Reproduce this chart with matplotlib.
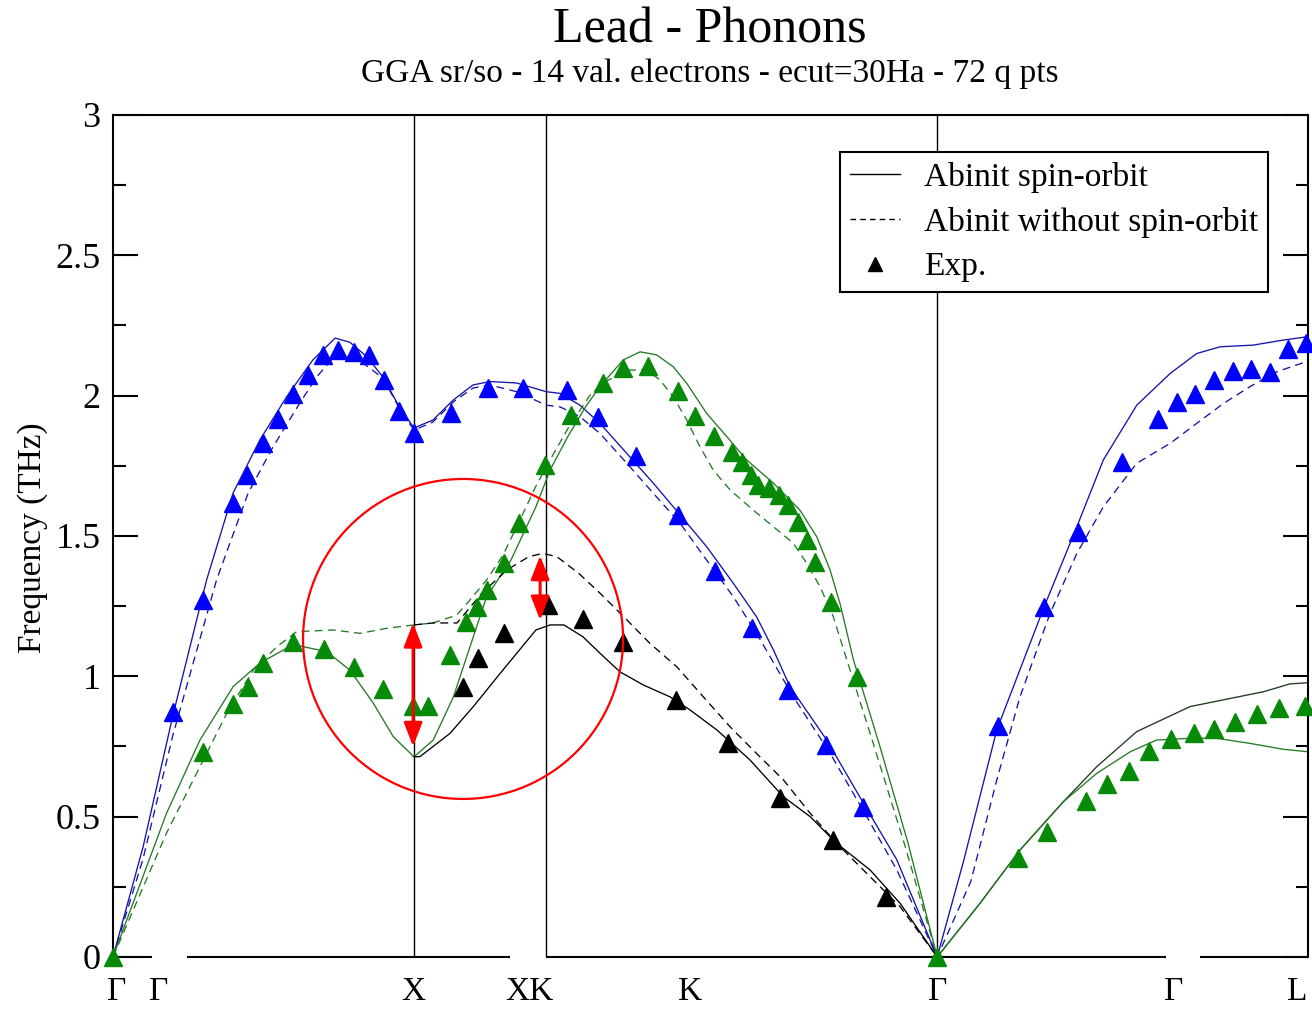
import matplotlib
matplotlib.use("Agg")
import matplotlib.pyplot as plt
from matplotlib.lines import Line2D
from matplotlib.patches import Ellipse, FancyArrowPatch
from matplotlib.ticker import MultipleLocator

plt.rcParams["font.family"] = ["Liberation Serif", "DejaVu Serif"]

# path coordinate: Gamma = 0, X = 1, X|K = 1.439, Gamma = 2.738, L = 3.97
X_TICKS = [0.013, 0.153, 0.997, 1.382, 1.917, 2.738, 3.525, 3.934]
X_LABELS = ["Γ", "Γ", "X", "XK", "K", "Γ", "Γ", "L"]
SPECIAL_LINES = [1.0, 1.439, 2.738]

# blue branch, with spin-orbit
blue_so_x = [0, 0.100, 0.199, 0.311, 0.399, 0.488, 0.577, 0.664, 0.738, 0.787, 0.843, 0.897,
             0.953, 1.0, 1.063, 1.130, 1.196, 1.252, 1.341, 1.439, 1.485, 1.551, 1.618, 1.707,
             1.795, 1.884, 1.972, 2.061, 2.138, 2.194, 2.249, 2.371, 2.493, 2.604, 2.738,
             2.824, 2.936, 3.093, 3.202, 3.290, 3.401, 3.512, 3.600, 3.678, 3.788, 3.888, 3.970]
blue_so_y = [0, 0.392, 0.860, 1.343, 1.653, 1.842, 1.996, 2.127, 2.205, 2.190, 2.139, 2.066,
             1.956, 1.885, 1.913, 1.984, 2.038, 2.050, 2.045, 2.014, 2.008, 1.966, 1.901, 1.794,
             1.688, 1.575, 1.462, 1.331, 1.212, 1.094, 0.963, 0.773, 0.548, 0.346, 0,
             0.335, 0.809, 1.247, 1.533, 1.771, 1.966, 2.079, 2.150, 2.174, 2.180, 2.198, 2.210]

# blue branch, without spin-orbit
blue_nso_x = [0, 0.100, 0.199, 0.344, 0.449, 0.532, 0.621, 0.677, 0.731, 0.797, 0.831, 0.897,
              0.953, 1.0, 1.063, 1.130, 1.196, 1.252, 1.341, 1.439, 1.485, 1.551, 1.618, 1.707,
              1.795, 1.884, 1.972, 2.061, 2.138, 2.260, 2.382, 2.504, 2.604, 2.738,
              2.850, 2.936, 3.013, 3.113, 3.202, 3.290, 3.401, 3.512, 3.600, 3.689, 3.777, 3.866, 3.970]
blue_nso_y = [0, 0.350, 0.790, 1.343, 1.653, 1.818, 1.974, 2.067, 2.134, 2.134, 2.116, 2.062,
              1.952, 1.877, 1.906, 1.977, 2.027, 2.038, 2.014, 1.966, 1.960, 1.925, 1.865, 1.759,
              1.652, 1.545, 1.414, 1.283, 1.153, 0.927, 0.726, 0.500, 0.310, 0,
              0.270, 0.631, 0.927, 1.224, 1.438, 1.604, 1.759, 1.830, 1.901, 1.972, 2.032, 2.085, 2.123]

# green branch, with spin-orbit (Gamma - X - K - Gamma)
green_so_x = [0, 0.178, 0.289, 0.399, 0.488, 0.577, 0.621, 0.710, 0.787, 0.865, 0.931, 1.0,
              1.064, 1.131, 1.186, 1.241, 1.322, 1.405, 1.452, 1.511, 1.570, 1.617, 1.695,
              1.751, 1.806, 1.861, 1.906, 1.972, 2.039, 2.105, 2.194, 2.282, 2.338, 2.382,
              2.415, 2.460, 2.545, 2.640, 2.738]
green_so_y = [0, 0.512, 0.773, 0.963, 1.047, 1.100, 1.108, 1.088, 1.022, 0.904, 0.785, 0.713,
              0.773, 0.927, 1.105, 1.283, 1.414, 1.604, 1.735, 1.854, 1.960, 2.032, 2.127,
              2.156, 2.145, 2.103, 2.044, 1.937, 1.854, 1.771, 1.688, 1.592, 1.497, 1.379,
              1.260, 1.058, 0.760, 0.410, 0]

# green branch, without spin-orbit
green_nso_x = [0, 0.178, 0.289, 0.378, 0.466, 0.544, 0.610, 0.732, 0.821, 0.909, 1.0, 1.063,
               1.142, 1.186, 1.241, 1.296, 1.352, 1.402, 1.452, 1.518, 1.585, 1.628, 1.707,
               1.773, 1.817, 1.861, 1.906, 1.950, 1.994, 2.050, 2.127, 2.194, 2.260, 2.305,
               2.349, 2.393, 2.438, 2.520, 2.630, 2.738]
green_nso_y = [0, 0.442, 0.678, 0.868, 1.022, 1.105, 1.159, 1.165, 1.153, 1.171, 1.183, 1.190,
               1.218, 1.272, 1.343, 1.432, 1.557, 1.671, 1.771, 1.895, 2.002, 2.045, 2.091,
               2.091, 2.056, 1.996, 1.913, 1.818, 1.735, 1.664, 1.592, 1.533, 1.474, 1.402,
               1.319, 1.212, 1.058, 0.780, 0.400, 0]

# Gamma - L transverse branches (with spin-orbit)
gl_upper_x = [2.738, 2.880, 3.013, 3.157, 3.268, 3.401, 3.578, 3.711, 3.822, 3.910, 3.970]
gl_upper_y = [0, 0.191, 0.381, 0.553, 0.678, 0.803, 0.892, 0.921, 0.945, 0.973, 0.977]
gl_lower_x = [2.738, 2.880, 3.013, 3.157, 3.268, 3.379, 3.467, 3.578, 3.667, 3.777, 3.888, 3.970]
gl_lower_y = [0, 0.191, 0.381, 0.553, 0.654, 0.731, 0.773, 0.779, 0.779, 0.761, 0.740, 0.731]

# black branch (X - K - Gamma)
black_so_x = [1.0, 1.020, 1.120, 1.197, 1.286, 1.405, 1.452, 1.498, 1.561, 1.618, 1.684,
              1.762, 1.850, 1.917, 2.006, 2.116, 2.227, 2.316, 2.404, 2.515, 2.615, 2.738]
black_so_y = [0.713, 0.714, 0.797, 0.892, 1.010, 1.165, 1.183, 1.183, 1.141, 1.082, 1.016,
              0.969, 0.927, 0.880, 0.809, 0.702, 0.571, 0.500, 0.405, 0.310, 0.191, 0]
black_nso_x = [1.0, 1.063, 1.143, 1.226, 1.309, 1.381, 1.428, 1.475, 1.547, 1.618, 1.707,
               1.784, 1.873, 1.961, 2.050, 2.138, 2.227, 2.316, 2.404, 2.515, 2.615, 2.738]
black_nso_y = [1.183, 1.190, 1.190, 1.297, 1.379, 1.426, 1.438, 1.426, 1.367, 1.296, 1.201,
               1.117, 1.034, 0.927, 0.820, 0.725, 0.631, 0.512, 0.405, 0.286, 0.179, 0]

# experiment
exp_blue_x = [0.199, 0.299, 0.398, 0.446, 0.499, 0.549, 0.597, 0.649, 0.699, 0.749, 0.801,
              0.852, 0.900, 0.951, 1.0, 1.123, 1.245, 1.361, 1.507, 1.612, 1.738, 1.878,
              2.0, 2.122, 2.244, 2.369, 2.491,
              2.939, 3.093, 3.207, 3.351, 3.473, 3.534, 3.595, 3.658, 3.720, 3.780, 3.842,
              3.905, 3.963]
exp_blue_y = [0.873, 1.272, 1.618, 1.717, 1.832, 1.917, 2.006, 2.073, 2.145, 2.162, 2.154,
              2.145, 2.056, 1.946, 1.868, 1.937, 2.026, 2.026, 2.020, 1.923, 1.785, 1.575,
              1.376, 1.173, 0.951, 0.755, 0.533,
              0.823, 1.246, 1.515, 1.764, 1.915, 1.978, 2.006, 2.056, 2.089, 2.094, 2.085,
              2.165, 2.188]
exp_green_x = [0, 0.299, 0.398, 0.450, 0.498, 0.598, 0.700, 0.801, 0.898, 0.998, 1.048,
               1.120, 1.174, 1.208, 1.242, 1.298, 1.349, 1.434, 1.520, 1.629, 1.694, 1.778,
               1.876, 1.935, 1.997, 2.056, 2.088, 2.121, 2.144, 2.179, 2.211, 2.244, 2.277,
               2.306, 2.333, 2.386, 2.472, 2.738,
               3.008, 3.104, 3.233, 3.302, 3.374, 3.443, 3.514, 3.590, 3.658, 3.728, 3.800,
               3.872, 3.960]
exp_green_y = [0, 0.731, 0.901, 0.963, 1.046, 1.123, 1.099, 1.032, 0.955, 0.894, 0.894,
               1.076, 1.192, 1.248, 1.307, 1.402, 1.545, 1.753, 1.931, 2.046, 2.100, 2.105,
               2.016, 1.927, 1.856, 1.800, 1.764, 1.717, 1.681, 1.670, 1.646, 1.610, 1.551,
               1.486, 1.408, 1.266, 0.998, 0,
               0.354, 0.446, 0.556, 0.615, 0.664, 0.735, 0.775, 0.797, 0.811, 0.838, 0.864,
               0.886, 0.894]
exp_black_x = [1.164, 1.214, 1.298, 1.445, 1.560, 1.693, 1.870, 2.044, 2.216, 2.391, 2.568]
exp_black_y = [0.963, 1.064, 1.153, 1.254, 1.203, 1.123, 0.916, 0.763, 0.565, 0.417, 0.215]

# red highlight: circle and the two splittings
circle_center = (1.163, 1.133)
circle_size = (1.063, 1.140)
split_arrows = [(0.997, 0.75, 1.19), (1.419, 1.20, 1.43)]

BLUE = "#0000ff"
BLUE_LINE = "#1414a8"
GREEN = "#078a07"
GREEN_LINE = "#257a25"
LW = 0.95
DASH = (6, 4)

fig = plt.figure(figsize=(13.12, 10.10), dpi=100)
ax = fig.add_axes([0.0861, 0.0525, 0.9109, 0.8337])

ax.plot(blue_so_x, blue_so_y, color=BLUE_LINE, lw=LW)
ax.plot(blue_nso_x, blue_nso_y, color=BLUE_LINE, lw=LW, dashes=DASH)
ax.plot(green_so_x, green_so_y, color=GREEN_LINE, lw=LW)
ax.plot(green_nso_x, green_nso_y, color=GREEN_LINE, lw=LW, dashes=DASH)
ax.plot(gl_upper_x, gl_upper_y, color="#1d3a1d", lw=LW)
ax.plot(gl_lower_x, gl_lower_y, color=GREEN_LINE, lw=LW)
ax.plot(black_so_x, black_so_y, color="k", lw=LW)
ax.plot(black_nso_x, black_nso_y, color="k", lw=LW, dashes=DASH)

mk = dict(marker="^", ms=13.5, ls="none", clip_on=False, zorder=4)
ax.plot(exp_blue_x, exp_blue_y, color=BLUE, **mk)
ax.plot(exp_green_x, exp_green_y, color=GREEN, **mk)
ax.plot(exp_black_x, exp_black_y, color="k", **mk)

for xv in SPECIAL_LINES:
    ax.axvline(xv, color="k", lw=1.0, zorder=1)

ax.add_patch(Ellipse(circle_center, circle_size[0], circle_size[1],
                     fill=False, ec="red", lw=1.6, zorder=5))
for xa, ylo, yhi in split_arrows:
    ax.add_patch(FancyArrowPatch((xa, ylo), (xa, yhi),
                                 arrowstyle="<|-|>,head_length=0.9,head_width=0.35",
                                 mutation_scale=16, color="red", lw=2.2,
                                 shrinkA=0, shrinkB=0, zorder=6))

ax.set_xlim(0, 3.970)
ax.set_ylim(0, 3)

# axis frame (bottom spine has gaps like the original)
for side in ["left", "right", "top"]:
    ax.spines[side].set_linewidth(1.5)
ax.spines["bottom"].set_visible(False)
gap_starts = [0, 0.246, 1.439, 3.611]
gap_ends = [0.130, 1.319, 3.498, 3.970]
ax.hlines([0] * len(gap_starts), gap_starts, gap_ends,
          colors="k", lw=1.5, clip_on=False, zorder=3)

ax.set_yticks([0, 0.5, 1, 1.5, 2, 2.5, 3])
ax.set_yticklabels(["0", "0.5", "1", "1.5", "2", "2.5", "3"])
ax.yaxis.set_minor_locator(MultipleLocator(0.25))
ax.tick_params(axis="y", which="major", direction="in", length=18, width=1.5,
               right=True, labelsize=26, pad=9)
ax.tick_params(axis="y", which="minor", direction="in", length=9, width=1.5, right=True)

ax.set_xticks(X_TICKS)
ax.set_xticklabels(X_LABELS)
ax.tick_params(axis="x", length=0, labelsize=24, pad=14)

legend_handles = [
    Line2D([], [], color="k", lw=1.0),
    Line2D([], [], color="k", lw=1.0, dashes=(4, 3)),
    Line2D([], [], color="k", marker="^", ms=10, ls="none"),
]
leg = ax.legend(legend_handles,
                ["Abinit spin-orbit", "Abinit without spin-orbit", "Exp."],
                loc="upper right", bbox_to_anchor=(0.9665, 0.956), borderaxespad=0,
                fontsize=24, frameon=True, fancybox=False, framealpha=1,
                handlelength=1.5, handletextpad=0.7, labelspacing=0.42, borderpad=0.3)
leg.get_frame().set_edgecolor("k")
leg.get_frame().set_linewidth(1.5)

fig.text(0.541, 0.970, "Lead - Phonons", ha="center", va="center", fontsize=36)
fig.text(0.541, 0.927, "GGA sr/so - 14 val. electrons - ecut=30Ha - 72 q pts",
         ha="center", va="center", fontsize=24)
fig.text(0.025, 0.468, "Frequency (THz)", rotation=90, ha="center", va="center", fontsize=24)

fig.savefig("out.png", dpi=100)
